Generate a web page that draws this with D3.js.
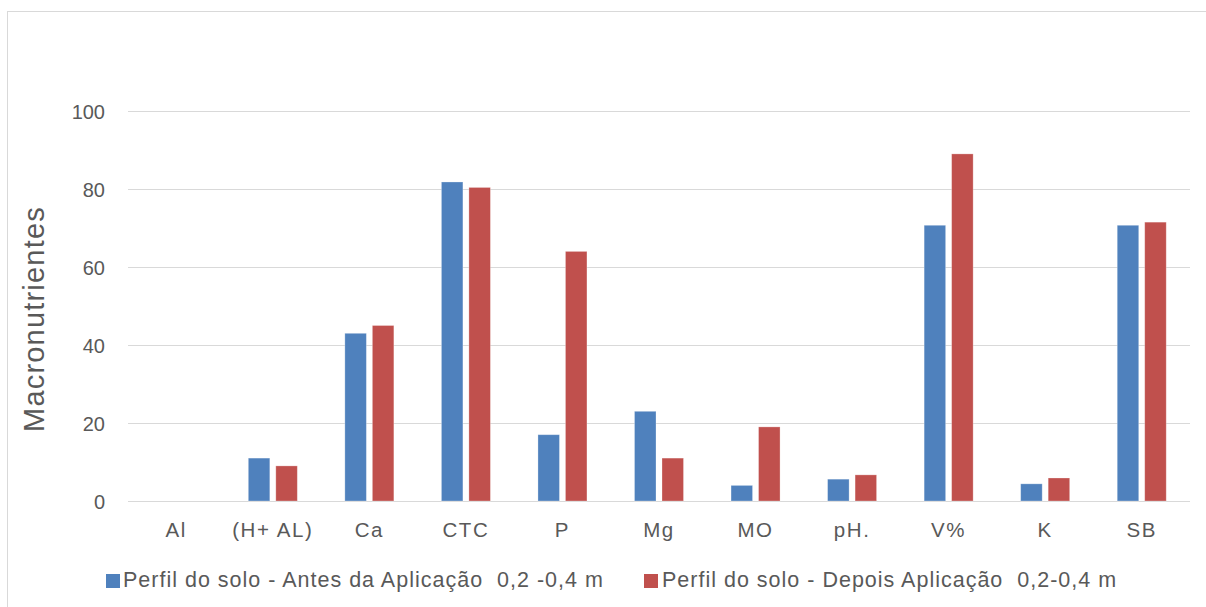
<!DOCTYPE html>
<html>
<head>
<meta charset="utf-8">
<script src="https://cdn.jsdelivr.net/npm/d3@7"></script>
<style>
  html, body { margin: 0; padding: 0; background: #fff; }
  svg { display: block; }
  text { font-family: "Liberation Sans", Arial, sans-serif; fill: #595959; white-space: pre; }
</style>
</head>
<body>
<svg id="chart" width="1206" height="607"></svg>
<script>
// Soil analysis, layer 0.2–0.4 m: before and after application
const categories = ["Al", "(H+ AL)", "Ca", "CTC", "P", "Mg", "MO", "pH.", "V%", "K", "SB"];
const antes  = [0, 11, 43, 81.8, 17, 23, 4, 5.6, 70.7, 4.4, 70.7];
const depois = [0, 9, 45, 80.4, 64, 11, 19, 6.7, 89, 5.9, 71.5];
const seriesNames = [
  "Perfil do solo - Antes da Aplicação  0,2 -0,4 m",
  "Perfil do solo - Depois Aplicação  0,2-0,4 m"
];
const yTicks = [0, 20, 40, 60, 80, 100];
const yTitle = "Macronutrientes";

const colors = ["#4f81bd", "#c0504d"];
const svg = d3.select("#chart");

// outer frame
svg.append("rect")
  .attr("x", 7.5).attr("y", 11.5)
  .attr("width", 1250).attr("height", 650)
  .attr("fill", "none").attr("stroke", "#d9d9d9").attr("stroke-width", 1);

const plot = { left: 128, right: 1190, top: 111, bottom: 501 };

const x0 = d3.scaleBand().domain(categories).range([plot.left, plot.right]).padding(0);
const groupW = 49;
const x1 = d3.scaleBand().domain([0, 1])
  .range([x0.bandwidth() / 2 - groupW / 2, x0.bandwidth() / 2 + groupW / 2])
  .paddingInner(0.218).paddingOuter(0);
const y = d3.scaleLinear().domain([0, 100]).range([plot.bottom, plot.top]);

// gridlines
svg.append("g")
  .selectAll("line").data(yTicks).join("line")
  .attr("x1", plot.left).attr("x2", plot.right)
  .attr("y1", d => Math.round(y(d)) + 0.5).attr("y2", d => Math.round(y(d)) + 0.5)
  .attr("stroke", "#d9d9d9").attr("stroke-width", 1.2);

// y tick labels
const yAxis = d3.axisLeft(y).tickValues(yTicks).tickSize(0).tickPadding(0);
const gy = svg.append("g").attr("transform", `translate(${105},0)`).call(yAxis);
gy.select(".domain").remove();
gy.selectAll("text")
  .attr("fill", "#595959")
  .style("font-family", '"Liberation Sans", Arial, sans-serif')
  .style("font-size", "20px")
  .attr("dy", "0.36em");

// bars
const data = categories.map((c, i) => ({ cat: c, vals: [antes[i], depois[i]] }));
const groups = svg.append("g").selectAll("g").data(data).join("g")
  .attr("transform", d => `translate(${x0(d.cat)},0)`);
groups.selectAll("rect")
  .data(d => d.vals.map((v, k) => ({ k, v })))
  .join("rect")
  .attr("x", d => x1(d.k))
  .attr("width", x1.bandwidth())
  .attr("y", d => y(d.v))
  .attr("height", d => y(0) - y(d.v))
  .attr("fill", d => colors[d.k])
  .attr("stroke", "#ffffff").attr("stroke-opacity", 0.35).attr("stroke-width", 0.8);

// category labels
const xAxis = d3.axisBottom(x0).tickSize(0).tickPadding(0);
const gx = svg.append("g").attr("transform", `translate(0,${537})`).call(xAxis);
gx.select(".domain").remove();
gx.selectAll("text")
  .attr("fill", "#595959")
  .attr("dy", "0")
  .style("font-family", '"Liberation Sans", Arial, sans-serif')
  .style("font-size", "20.5px")
  .style("letter-spacing", "1.6px");

// y axis title
svg.append("text")
  .attr("transform", `translate(${44},${319}) rotate(-90)`)
  .attr("text-anchor", "middle")
  .style("font-size", "29px")
  .style("letter-spacing", "1.2px")
  .text(yTitle);

// legend
const legendItems = [
  { x: 106, tx: 123, name: seriesNames[0], color: colors[0] },
  { x: 644, tx: 662, name: seriesNames[1], color: colors[1] }
];
const lg = svg.append("g").selectAll("g").data(legendItems).join("g");
lg.append("rect")
  .attr("x", d => d.x).attr("y", 574)
  .attr("width", 14).attr("height", 14)
  .attr("fill", d => d.color);
lg.append("text")
  .attr("x", d => d.tx).attr("y", 587)
  .style("font-size", "21.5px")
  .style("letter-spacing", "1px")
  .text(d => d.name);
</script>
</body>
</html>
